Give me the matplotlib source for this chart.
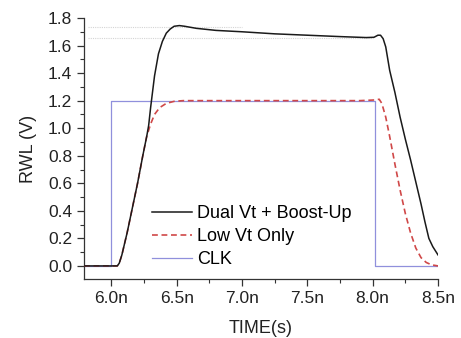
import matplotlib
matplotlib.use("Agg")
import matplotlib.pyplot as plt
import numpy as np

plt.rcParams['font.family'] = ['Liberation Sans', 'DejaVu Sans']

# Time in ns
dual_t = [5.79, 6.00, 6.045, 6.06, 6.08, 6.12, 6.16, 6.20, 6.24, 6.27, 6.285, 6.30, 6.33, 6.36, 6.39, 6.42, 6.45,
          6.48, 6.52, 6.56, 6.65, 6.80, 7.00, 7.25, 7.50, 7.75, 7.95, 8.01, 8.04, 8.06, 8.08, 8.10,
          8.13, 8.17, 8.21, 8.25, 8.29, 8.33, 8.37, 8.40, 8.43, 8.46, 8.50]
dual_v = [0.0, 0.0, 0.0, 0.02, 0.08, 0.24, 0.42, 0.60, 0.80, 0.94, 1.02, 1.15, 1.38, 1.54, 1.63, 1.69, 1.72,
          1.74, 1.745, 1.74, 1.725, 1.71, 1.70, 1.685, 1.675, 1.665, 1.658, 1.66, 1.675, 1.675, 1.65, 1.59,
          1.42, 1.26, 1.08, 0.92, 0.77, 0.61, 0.45, 0.32, 0.20, 0.14, 0.08]

low_t = [5.79, 6.00, 6.045, 6.06, 6.08, 6.12, 6.16, 6.20, 6.24, 6.27, 6.30, 6.33, 6.37, 6.42, 6.48, 6.55,
         6.65, 7.00, 7.50, 7.90, 8.02, 8.05, 8.07, 8.10, 8.13, 8.17, 8.21, 8.25, 8.29, 8.33, 8.37,
         8.41, 8.45, 8.50]
low_v = [0.0, 0.0, 0.0, 0.02, 0.08, 0.24, 0.42, 0.60, 0.80, 0.94, 1.03, 1.10, 1.15, 1.18, 1.195, 1.20,
         1.20, 1.20, 1.20, 1.20, 1.205, 1.21, 1.18, 1.08, 0.94, 0.74, 0.55, 0.38, 0.24, 0.13, 0.06,
         0.025, 0.008, 0.0]

clk_t = [5.79, 6.00, 6.00, 8.02, 8.02, 8.50]
clk_v = [0.0, 0.0, 1.20, 1.20, 0.0, 0.0]

ref_levels = [1.737, 1.657]
ref_ends = [7.0, 8.0]

xticks = [6.0, 6.5, 7.0, 7.5, 8.0, 8.5]
xticklabels = ["6.0n", "6.5n", "7.0n", "7.5n", "8.0n", "8.5n"]
yticks = [0.0, 0.2, 0.4, 0.6, 0.8, 1.0, 1.2, 1.4, 1.6, 1.8]

fig = plt.figure(figsize=(4.61, 3.38), dpi=100)
ax = fig.add_axes([84/461, 1-279/338, (438-84)/461, (279-18)/338])

for lvl, xe in zip(ref_levels, ref_ends):
    ax.plot([5.82, xe], [lvl, lvl], color='#d4d4d4', lw=0.8, ls=(0, (1, 1)), zorder=1)

ax.plot(clk_t, clk_v, color='#9090dc', lw=0.9, label='CLK', zorder=2)
ax.plot(low_t, low_v, color='#d04848', lw=1.2, ls=(0, (3.5, 2.2)), label='Low Vt Only', zorder=3)
ax.plot(dual_t, dual_v, color='#1a1a1a', lw=1.1, label='Dual Vt + Boost-Up', zorder=4)

ax.set_xlim(5.79, 8.5)
ax.set_ylim(-0.095, 1.8)
ax.spines['top'].set_visible(False)
ax.spines['right'].set_visible(False)
for s in ['left', 'bottom']:
    ax.spines[s].set_color('#333333')
    ax.spines[s].set_linewidth(0.9)

ax.set_xticks(xticks)
ax.set_xticklabels(xticklabels)
ax.set_yticks(yticks)
ax.set_yticklabels([f"{v:.1f}" for v in yticks])
ax.set_xticks(np.arange(6.25, 8.5, 0.5), minor=True)
ax.set_yticks(np.arange(0.1, 1.8, 0.2), minor=True)
ax.tick_params(axis='both', which='major', direction='out', length=5, width=0.9,
               labelsize=12.5, colors='#333333', labelcolor='#222222')
ax.tick_params(axis='both', which='minor', direction='out', length=3, width=0.8, colors='#333333')

ax.set_xlabel('TIME(s)', fontsize=13, color='#222222', labelpad=10)
ax.set_ylabel('RWL (V)', fontsize=13, color='#222222', labelpad=8)

h, l = ax.get_legend_handles_labels()
leg = ax.legend(h[::-1], l[::-1], loc='upper left', bbox_to_anchor=(0.192, 0.283), frameon=False,
                fontsize=13, handlelength=2.2, handletextpad=0.3, labelspacing=0.33,
                borderpad=0, borderaxespad=0)

fig.savefig('out.png', dpi=100)
